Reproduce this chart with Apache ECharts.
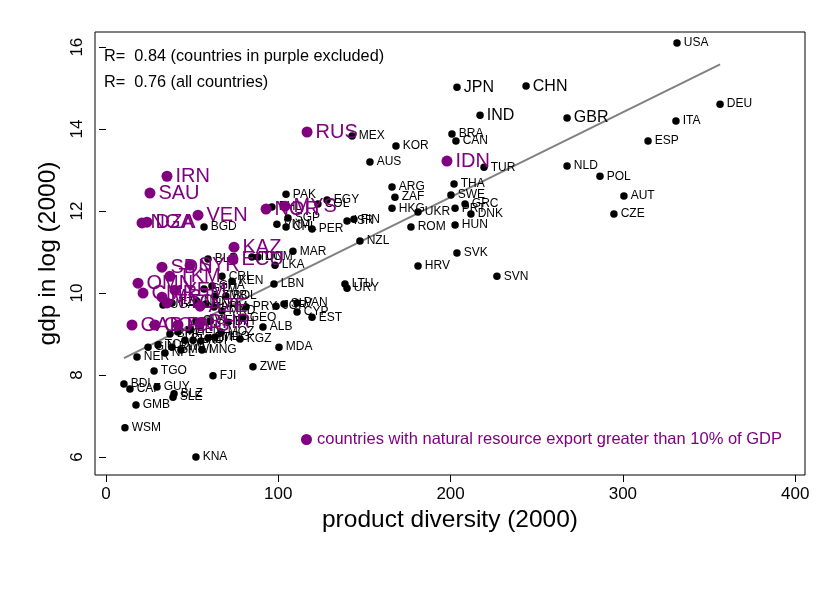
<!DOCTYPE html>
<html><head><meta charset="utf-8">
<script src="https://cdn.jsdelivr.net/npm/echarts@6/dist/echarts.min.js"></script>
<style>html,body{margin:0;padding:0;background:#fff}#c{width:816px;height:601px}</style>
</head><body><div id="c"></div>
<script>
// ---- data ----
const xTicks = [0, 100, 200, 300, 400];
const yTicks = [6, 8, 10, 12, 14, 16];

const blackNames = ["USA","DEU","ITA","ESP","NLD","POL","AUT","CZE","BRA","CAN","MEX","KOR","AUS","TUR","ARG","ZAF","HKG","THA","SWE","GRC","PRT","DNK","UKR","ROM","HUN","SVK","HRV","SVN","NZL","FIN","ISR","PAK","EGY","COL","PHL","SGP","CHL","VNM","PER","BGD","MAR","LKA","LBN","LTU","URY","BLR","TUN","DOM","PRY","JOR","SLV","PAN","CYP","EST","ALB","GEO","KGZ","MDA","ZWE","FJI","TGO","MNG","MWI","NER","NPL","GIN","BDI","CAF","GUY","BLZ","SLE","GMB","WSM","KNA","CRI","KEN","GHA","GTM","BOL","ZMB","UGA","TZA","NIC","HND","ARM","MKD","BIH","SEN","CIV","BEN","MLI","BFA","KHM","LAO","HTI","ETH","MDG","MOZ","TCD","RWA"];
const blackX = [331.4,356.4,330.8,314.6,267.6,286.7,300.6,294.8,200.8,203.1,142.8,168.3,153.2,219.4,166.0,167.7,166.0,202.0,200.2,208.4,202.6,211.8,181.1,177.0,202.6,203.7,181.1,226.9,147.4,143.9,139.9,104.5,128.3,123.0,96.3,105.6,104.5,99.2,119.6,56.9,108.5,98.1,97.5,138.7,139.9,59.2,84.7,88.2,81.3,98.7,103.3,110.9,110.9,119.6,91.1,79.5,77.8,100.4,85.3,62.1,27.9,55.7,43.5,18.0,34.2,24.4,10.4,13.9,29.6,39.5,38.9,17.4,11.0,52.2,67.3,73.1,61.5,56.9,69.6,63.3,33.1,38.3,52.8,58.0,62.7,67.3,70.8,60.4,52.2,48.8,41.8,37.1,45.8,50.5,55.1,59.2,63.3,66.7,30.2,38.3];
const blackY = [16.10,14.61,14.20,13.71,13.10,12.85,12.37,11.93,13.88,13.71,13.83,13.59,13.20,13.07,12.59,12.34,12.07,12.66,12.39,12.17,12.07,11.93,11.98,11.61,11.66,10.98,10.66,10.41,11.27,11.80,11.76,12.41,12.27,12.17,12.10,11.83,11.61,11.68,11.56,11.61,11.02,10.68,10.22,10.22,10.12,10.83,10.88,10.88,9.66,9.68,9.73,9.76,9.54,9.41,9.17,9.41,8.88,8.68,8.20,7.98,8.10,8.61,8.61,8.44,8.54,8.68,7.78,7.66,7.71,7.54,7.46,7.27,6.71,6.00,10.41,10.29,10.17,10.10,9.93,9.93,9.71,9.76,9.80,9.73,9.66,9.56,9.29,9.32,9.32,9.10,9.05,9.00,8.85,8.85,8.83,8.90,8.93,9.05,8.73,8.68];

const bigNames = ["JPN","CHN","IND","GBR"];
const bigX = [203.7,243.8,217.1,267.6];
const bigY = [15.02,15.05,14.34,14.27];

const purpleNames = ["RUS","IDN","IRN","SAU","DZA","NGA","VEN","NOR","MYS","KAZ","ECU","SDN","SYR","TKM","OMN","CMR","MRT","YEM","TTO","AZE","GAB","COG","PNG","BHR"];
const purpleX = [116.7,197.9,35.4,25.5,23.8,20.9,53.4,92.9,103.9,74.3,73.7,32.5,48.8,37.1,18.6,21.5,32.5,40.0,35.4,54.6,15.1,28.4,41.8,54.6];
const purpleY = [13.93,13.22,12.85,12.44,11.73,11.71,11.90,12.05,12.12,11.12,10.83,10.63,10.68,10.41,10.24,10.00,9.90,10.07,9.76,9.68,9.22,9.22,9.22,9.27];

const fitLineX = [10.4, 356.4];
const fitLineY = [8.41, 15.58];

const rTexts = ["R=  0.84 (countries in purple excluded)", "R=  0.76 (all countries)"];
const legendName = "countries with natural resource export greater than 10% of GDP";

// ---- chart ----
const FONT = "Liberation Sans, Arial, sans-serif";
const PURPLE = "#800080";
const mk = (n, xs, ys) => n.map((name, i) => ({ name: name, value: [xs[i], ys[i]] }));

const chart = echarts.init(document.getElementById('c'), null, { renderer: 'canvas' });
chart.setOption({
  backgroundColor: '#fff',
  animation: false,
  textStyle: { fontFamily: FONT },
  grid: { left: 95, right: 11, top: 32, bottom: 126, show: true, borderColor: '#000', borderWidth: 1, backgroundColor: 'transparent' },
  xAxis: {
    type: 'value', min: -6.38, max: 405.7,
    name: 'product diversity (2000)', nameLocation: 'middle', nameGap: 32,
    nameTextStyle: { fontSize: 24.5, color: '#000', fontFamily: FONT },
    axisLine: { show: false },
    splitLine: { show: false },
    axisTick: { show: true, inside: false, length: 7, lineStyle: { color: '#000' }, customValues: xTicks },
    axisLabel: { fontSize: 17, color: '#000', margin: 11, fontFamily: FONT, customValues: xTicks }
  },
  yAxis: {
    type: 'value', min: 5.56, max: 16.37,
    name: 'gdp in log (2000)', nameLocation: 'middle', nameGap: 33, nameRotate: 90,
    nameTextStyle: { fontSize: 24.5, color: '#000', fontFamily: FONT },
    axisLine: { show: false },
    splitLine: { show: false },
    axisTick: { show: true, inside: false, length: 7, lineStyle: { color: '#000' }, customValues: yTicks },
    axisLabel: { fontSize: 17, color: '#000', margin: 9, rotate: 90, fontFamily: FONT, customValues: yTicks }
  },
  legend: {
    data: [{ name: legendName, icon: 'circle', itemStyle: { color: PURPLE, opacity: 1 } }],
    left: 301, top: 431, padding: 0, itemWidth: 11, itemHeight: 11,
    textStyle: { color: PURPLE, fontSize: 16.5, fontFamily: FONT },
    selectedMode: false
  },
  graphic: rTexts.map((t, i) => ({
    type: 'text', x: 104, y: 57 + i * 26,
    style: { text: t, font: '16.3px ' + FONT, fill: '#000', verticalAlign: 'middle', textVerticalAlign: 'middle' }
  })),
  series: [
    {
      type: 'line', data: fitLineX.map((x, i) => [x, fitLineY[i]]),
      showSymbol: false, symbol: 'none', lineStyle: { color: '#808080', width: 2 }, z: 1, silent: true
    },
    {
      type: 'scatter', name: 'others', data: mk(blackNames, blackX, blackY),
      symbol: 'circle', symbolSize: 7.5, itemStyle: { color: '#000', opacity: 1 }, z: 2,
      label: { show: true, formatter: '{b}', position: 'right', distance: 3, color: '#000', opacity: 1, fontSize: 12, fontFamily: FONT }
    },
    {
      type: 'scatter', name: 'large', data: mk(bigNames, bigX, bigY),
      symbol: 'circle', symbolSize: 7.5, itemStyle: { color: '#000', opacity: 1 }, z: 3,
      label: { show: true, formatter: '{b}', position: 'right', distance: 3, color: '#000', opacity: 1, fontSize: 16, fontFamily: FONT }
    },
    {
      type: 'scatter', name: legendName, data: mk(purpleNames, purpleX, purpleY),
      symbol: 'circle', symbolSize: 11, itemStyle: { color: PURPLE, opacity: 1 }, z: 4,
      label: { show: true, formatter: '{b}', position: 'right', distance: 3, color: PURPLE, opacity: 1, fontSize: 20, fontFamily: FONT }
    }
  ]
});
</script></body></html>
